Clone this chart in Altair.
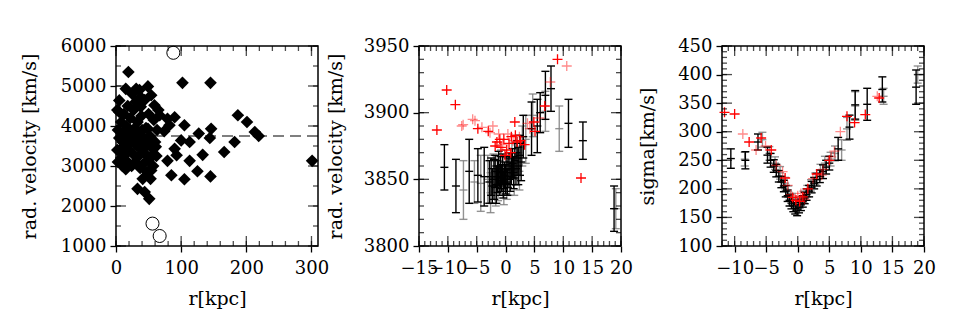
import altair as alt
import pandas as pd

FONT = "DejaVu Serif"

# ---------------- Panel 1: radial velocity vs radius ----------------
p1_diamond_r = [19, 102, 145, 15, 31, 49, 54, 38, 5, 5, 59, 38, 67, 79, 90, 82, 74, 105, 127, 146,
                144, 187, 201, 213, 219, 182, 166, 133, 100, 113, 90, 93, 79, 113, 85, 105, 125, 145, 301, 51,
                33, 44, 41, 53, 15, 54, 56, 61, 54, 49,
                2, 2, 3, 3, 5, 6, 8, 8, 10, 10, 12, 12, 14, 15, 16, 17, 18, 18, 20, 20,
                22, 22, 24, 24, 25, 26, 27, 28, 29, 30, 30, 32, 33, 34, 35, 36, 37, 38, 39, 40,
                40, 42, 43, 44, 45, 46, 48, 48, 50, 50, 52, 55, 57, 58, 60, 62, 63, 65]
p1_diamond_v = [5350, 5080, 5080, 4930, 4930, 4990, 4770, 4720, 4640, 4350, 4520, 4480, 4270, 4180, 4220, 4020, 3870, 4020, 3810, 3930,
                3700, 4270, 4100, 3850, 3750, 3600, 3350, 3280, 3640, 3600, 3430, 3270, 3130, 3130, 2770, 2670, 2870, 2740, 3130, 2180,
                2430, 2350, 2680, 2680, 2920, 2890, 3270, 3480, 3680, 3930,
                4400, 3400, 3100, 3900, 3700, 3400, 4100, 3200, 3600, 3000, 3850, 4300, 3500, 3300, 4000, 3700, 4500, 3100, 3900, 3400,
                4200, 3600, 3000, 3800, 4800, 3300, 4400, 3700, 3950, 3100, 4600, 3500, 4100, 3800, 3250, 4900, 2950, 3600, 4250, 3900,
                3400, 3050, 3700, 4650, 3300, 3950, 3550, 2850, 3150, 4300, 3750, 3450, 3000, 4150, 3600, 3250, 3900, 4400]
p1_circle_r = [88, 56, 67]
p1_circle_v = [5830, 1560, 1250]
p1_mean_v = [3750]

# ---------------- Panel 2: rotation curve ----------------
p2_black_r = [-10.6, -8.6, -6.3, -4.8, -3.7,
              -2.8, -2.5, -2.3, -2.0, -1.8, -1.6, -1.4, -1.2, -1.0, -0.9, -0.7, -0.5, -0.4, -0.2, 0.0,
              0.1, 0.3, 0.4, 0.6, 0.8, 1.0, 1.2, 1.4, 1.6, 1.8, 2.0, 2.2, 2.5, 2.7,
              3.07, 4.5, 5.5, 6.0, 6.9, 7.87, 10.9, 13.4, 18.8]
p2_black_v = [3859, 3845, 3856, 3853, 3852,
              3848, 3852, 3845, 3850, 3856, 3846, 3852, 3858, 3849, 3855, 3851, 3858, 3846, 3853, 3850,
              3857, 3848, 3855, 3860, 3852, 3858, 3862, 3855, 3864, 3858, 3866, 3860, 3868, 3863,
              3882, 3888, 3890, 3900, 3913, 3918, 3892, 3879, 3828]
p2_black_err = [17, 20, 24, 20, 22,
                16, 14, 13, 15, 12, 14, 12, 13, 11, 12, 10, 11, 10, 10, 11,
                10, 10, 11, 10, 11, 12, 11, 12, 13, 12, 13, 14, 15, 14,
                16, 20, 20, 15, 18, 17, 18, 14, 17]
p2_gray_r = [-7.3, -5.4, -4.3, -3.1, -2.6, -2.1, -1.7, -1.3, -0.8, -0.3, 0.2, 0.7, 1.1, 1.5,
             1.9, 2.4, 2.9, 3.5, 4.7, 6.9, 9.3, 19.1]
p2_gray_v = [3842, 3848, 3847, 3850, 3840, 3855, 3843, 3847, 3860, 3842, 3846, 3850, 3865, 3850,
             3870, 3856, 3875, 3880, 3898, 3901, 3888, 3828]
p2_gray_err = [22, 16, 21, 18, 15, 14, 13, 13, 12, 11, 11, 12, 12, 12,
               13, 14, 15, 18, 16, 15, 17, 15]
p2_red_r = [-11.9, -10.2, -8.7, -4.8, -3.0, -1.8, -1.5, -1.0, -0.8, -0.3, -0.1, 0.2, 0.6, 0.9,
            1.0, 1.6, 1.7, 2.0, 2.6, 3.3, 4.9, 5.1, 6.8, 9.0, 13.07]
p2_red_v = [3887, 3917, 3906, 3888, 3886, 3875, 3878, 3880, 3874, 3880, 3868, 3872, 3877, 3870,
            3882, 3893, 3883, 3878, 3879, 3876, 3893, 3886, 3905, 3940, 3851]
p2_pink_r = [-7.6, -7.35, -5.7, -5.3, -4.1, -2.7, -2.2, -1.2, -0.5, 0.4, 1.3, 2.4, 3.8, 4.2,
             5.85, 7.75, 10.6]
p2_pink_v = [3890, 3891, 3895, 3894, 3889, 3885, 3890, 3884, 3876, 3884, 3879, 3882, 3892, 3888,
             3896, 3923, 3935]

# ---------------- Panel 3: velocity dispersion ----------------
p3_black_r = [-10.6, -8.3, -6.3, -4.8, -4.3, -3.8, -3.4, -3.0, -2.6, -2.2, -1.9, -1.6, -1.3, -1.0,
              -0.7, -0.4, -0.1, 0.2, 0.5, 0.8, 1.1, 1.4, 1.8, 2.2, 2.6, 3.0, 3.5, 4.0, 4.5, 5.0,
              6.4, 8.2, 9.1, 11.0, 13.4, 18.75]
p3_black_s = [253, 250, 282, 259, 250, 240, 232, 222, 212, 205, 196, 188, 180, 175,
              170, 166, 163, 168, 172, 178, 184, 190, 196, 203, 210, 216, 222, 230, 238, 245,
              270, 308, 347, 348, 374, 378]
p3_black_err = [17, 15, 14, 14, 12, 11, 11, 10, 10, 10, 10, 10, 10, 10,
                10, 10, 10, 10, 10, 10, 10, 10, 10, 10, 10, 11, 11, 12, 12, 12,
                20, 21, 25, 28, 22, 30]
p3_gray_r = [-8.4, -5.6, -4.5, -3.6, -2.8, -2.0, -1.5, -0.9, -0.3, 0.3, 0.9, 1.5, 2.1, 2.8,
             3.6, 4.3, 5.2, 5.9, 6.95, 7.8, 9.1, 13.6, 19.0]
p3_gray_s = [252, 286, 262, 245, 228, 210, 195, 182, 172, 176, 186, 196, 206, 218,
             232, 245, 252, 262, 268, 305, 345, 362, 400]
p3_gray_err = [12, 13, 12, 11, 11, 10, 10, 10, 10, 10, 10, 10, 10, 10,
               11, 12, 12, 13, 18, 20, 25, 14, 15]
p3_red_r = [-11.6, -10.0, -7.7, -5.8, -4.2, -2.0, -0.8, -0.3, 0.3, 0.8, 1.6, 3.0, 5.0, 7.8,
            9.0, 10.7, 12.9]
p3_red_s = [334, 331, 282, 289, 268, 219, 185, 180, 178, 186, 200, 226, 250, 327,
            316, 330, 359]
p3_pink_r = [-8.7, -6.6, -5.1, -3.4, -2.4, -1.6, -1.1, 0.0, 0.5, 1.1, 2.4, 3.8, 4.0, 5.3,
             5.8, 6.75, 12.6]
p3_pink_s = [296, 268, 275, 241, 230, 206, 190, 188, 192, 182, 218, 224, 234, 256,
             266, 300, 362]

# ---------------- tick positions ----------------
p1_xmaj, p1_xmin = [0, 100, 200, 300], list(range(0, 311, 20))
p1_ymaj, p1_ymin = [1000, 2000, 3000, 4000, 5000, 6000], list(range(1000, 6001, 500))
p2_xmaj, p2_xmin = [-15, -10, -5, 0, 5, 10, 15, 20], list(range(-15, 21))
p2_ymaj, p2_ymin = [3800, 3850, 3900, 3950], list(range(3800, 3951, 10))
p3_xmaj, p3_xmin = [-10, -5, 0, 5, 10, 15, 20], list(range(-12, 21))
p3_ymaj, p3_ymin = [100, 150, 200, 250, 300, 350, 400, 450], list(range(100, 451, 10))

W, H = 202, 200
MAJ, MIN = 10, 5
CROSS = "M-1,0L1,0M0,-1L0,1"


def frame_layers(xdom, ydom, xmaj, xmin, ymaj, ymin, ytitle, ytitle_x):
    xs = alt.Scale(domain=xdom, nice=False, zero=False)
    ys = alt.Scale(domain=ydom, nice=False, zero=False)
    carrier = pd.DataFrame({"x": [xdom[0]], "y": [ydom[0]]})
    axis_layer = alt.Chart(carrier).mark_point(opacity=0).encode(
        x=alt.X("x:Q", scale=xs, axis=alt.Axis(
            orient="bottom", values=xmaj, ticks=True, tickSize=6, tickColor="black", tickWidth=1.3,
            labelPadding=7, title="r[kpc]", titlePadding=12, format="d", domain=False, grid=False)),
        y=alt.Y("y:Q", scale=ys, axis=alt.Axis(
            orient="left", values=ymaj, ticks=True, tickSize=6, tickColor="black", tickWidth=1.3,
            labelPadding=4, title=ytitle, titleX=ytitle_x, titleY=H / 2, format="d",
            domain=False, grid=False)))
    ticks = []
    for vals, ln in [(xmaj, MAJ), (xmin, MIN)]:
        for edge, off in [(ydom[0], -ln / 2), (ydom[1], ln / 2)]:
            d = pd.DataFrame({"t": vals, "e": [edge] * len(vals)})
            ticks.append(alt.Chart(d).mark_tick(orient="vertical", color="black", size=ln,
                                                thickness=1.3, yOffset=off).encode(
                x=alt.X("t:Q", scale=xs, axis=None), y=alt.Y("e:Q", scale=ys, axis=None)))
    for vals, ln in [(ymaj, MAJ), (ymin, MIN)]:
        for edge, off in [(xdom[0], ln / 2), (xdom[1], -ln / 2)]:
            d = pd.DataFrame({"t": vals, "e": [edge] * len(vals)})
            ticks.append(alt.Chart(d).mark_tick(orient="horizontal", color="black", size=ln,
                                                thickness=1.3, xOffset=off).encode(
                y=alt.Y("t:Q", scale=ys, axis=None), x=alt.X("e:Q", scale=xs, axis=None)))
    return axis_layer, ticks, xs, ys


def errbars(r, v, err, color, opacity, xs, ys):
    df = pd.DataFrame({"r": r, "v": v, "err": err})
    df["lo"] = df["v"] - df["err"]
    df["hi"] = df["v"] + df["err"]
    base = alt.Chart(df)
    X = alt.X("r:Q", scale=xs, axis=None)
    rule = base.mark_rule(color=color, opacity=opacity, strokeWidth=1.4).encode(
        x=X, y=alt.Y("lo:Q", scale=ys, axis=None), y2="hi:Q")
    layers = [rule]
    for f in ["lo", "hi", "v"]:
        layers.append(base.mark_tick(orient="horizontal", color=color, opacity=opacity,
                                     size=8, thickness=1.4).encode(
            x=X, y=alt.Y(f + ":Q", scale=ys, axis=None)))
    return layers


def crosses(r, v, color, opacity, xs, ys):
    df = pd.DataFrame({"r": r, "v": v})
    return alt.Chart(df).mark_point(shape=CROSS, filled=False, color=color, opacity=opacity,
                                    size=100, strokeWidth=1.3).encode(
        x=alt.X("r:Q", scale=xs, axis=None), y=alt.Y("v:Q", scale=ys, axis=None))


# ---- Panel 1 ----
a1, t1, xs1, ys1 = frame_layers([0, 310], [1000, 6000], p1_xmaj, p1_xmin, p1_ymaj, p1_ymin,
                                "rad. velocity  [km/s]", -77)
d1 = pd.DataFrame({"r": p1_diamond_r, "v": p1_diamond_v})
c1 = pd.DataFrame({"r": p1_circle_r, "v": p1_circle_v})
m1 = pd.DataFrame({"v": p1_mean_v})
diam = alt.Chart(d1).mark_point(shape="diamond", filled=True, color="black", opacity=1, size=160).encode(
    x=alt.X("r:Q", scale=xs1, axis=None), y=alt.Y("v:Q", scale=ys1, axis=None))
circ = alt.Chart(c1).mark_point(shape="circle", filled=False, color="black", opacity=1, size=170,
                                strokeWidth=1).encode(
    x=alt.X("r:Q", scale=xs1, axis=None), y=alt.Y("v:Q", scale=ys1, axis=None))
mean = alt.Chart(m1).mark_rule(color="black", strokeDash=[11, 6], strokeWidth=1.2).encode(
    y=alt.Y("v:Q", scale=ys1, axis=None))
p1 = alt.layer(mean, diam, circ, *t1, a1).resolve_axis(
    x="independent", y="independent").properties(width=W, height=H)

# ---- Panel 2 ----
a2, t2, xs2, ys2 = frame_layers([-15, 20], [3800, 3950], p2_xmaj, p2_xmin, p2_ymaj, p2_ymin,
                                "rad. velocity [km/s]", -74)
l2 = (errbars(p2_gray_r, p2_gray_v, p2_gray_err, "#808080", 0.85, xs2, ys2)
      + errbars(p2_black_r, p2_black_v, p2_black_err, "black", 1, xs2, ys2)
      + [crosses(p2_pink_r, p2_pink_v, "#ff0000", 0.45, xs2, ys2),
         crosses(p2_red_r, p2_red_v, "#ff0000", 1, xs2, ys2)])
p2 = alt.layer(*l2, *t2, a2).resolve_axis(x="independent", y="independent").properties(width=W, height=H)

# ---- Panel 3 ----
a3, t3, xs3, ys3 = frame_layers([-12, 20], [100, 450], p3_xmaj, p3_xmin, p3_ymaj, p3_ymin,
                                "sigma[km/s]", -65)
l3 = (errbars(p3_gray_r, p3_gray_s, p3_gray_err, "#808080", 0.85, xs3, ys3)
      + errbars(p3_black_r, p3_black_s, p3_black_err, "black", 1, xs3, ys3)
      + [crosses(p3_pink_r, p3_pink_s, "#ff0000", 0.45, xs3, ys3),
         crosses(p3_red_r, p3_red_s, "#ff0000", 1, xs3, ys3)])
p3 = alt.layer(*l3, *t3, a3).resolve_axis(x="independent", y="independent").properties(width=W, height=H)

chart = alt.hconcat(p1, p2, p3, spacing=101, bounds="flush").properties(
    padding={"left": 11, "top": 28, "right": 5, "bottom": 3}
).configure_view(stroke="black", strokeWidth=1.5).configure_axis(
    labelFont=FONT, titleFont=FONT, labelFontSize=18, titleFontSize=19,
    labelColor="black", titleColor="black", titleFontWeight="normal",
    labelFlush=False, labelOverlap=False
)

chart.save("out.html", embed_options={"renderer": "svg", "actions": False})
